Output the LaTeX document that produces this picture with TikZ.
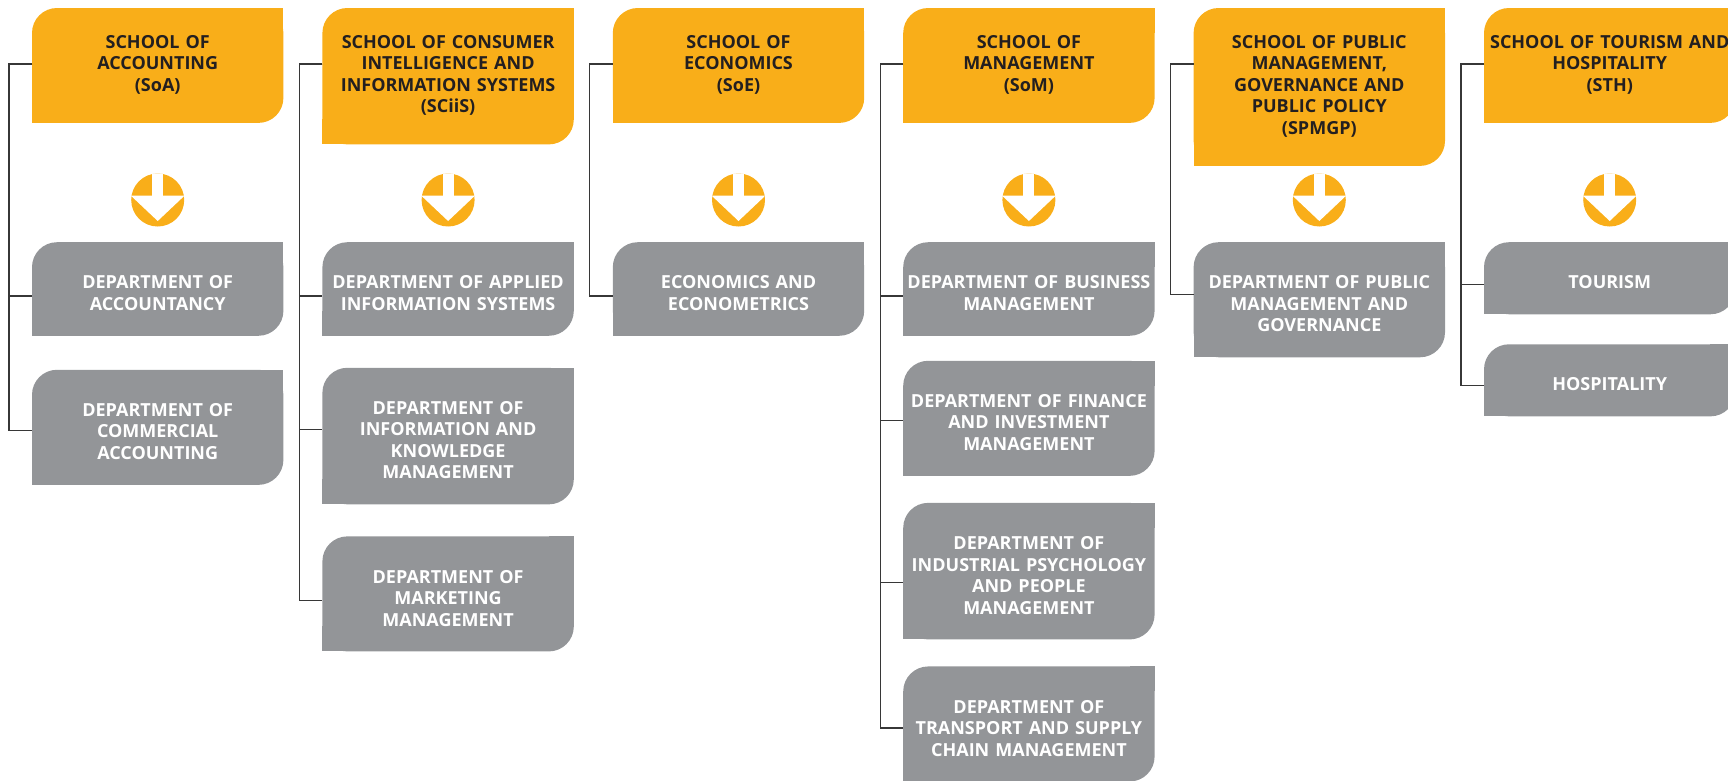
\documentclass[tikz,border=0pt]{standalone}
\usepackage{fontspec}
\setmainfont{Open Sans}
\usetikzlibrary{positioning,backgrounds,calc}

\definecolor{schoolorange}{RGB}{249,174,25}
\definecolor{deptgray}{RGB}{147,149,152}
\definecolor{schooltext}{RGB}{35,31,32}
\definecolor{spinegray}{RGB}{55,55,55}

\begin{document}
\begin{tikzpicture}
[x=1pt, y=-1pt,
    box/.style={font=\bfseries\fontsize{18}{21.5}\selectfont,
    align=center, text width=247pt, inner xsep=2pt, inner ysep=25pt},
    school/.style={box, text=schooltext,
    execute at begin node=\strut, execute at end node=\strut},
    dept/.style={box, text=white, execute at begin node={\rule{0pt}{21.5pt}}},
    downarrow/.style={circle, fill=schoolorange, minimum size=53pt, inner sep=0pt,
    path picture={
        \fill[white] ([shift={(-5.5pt,4pt)}]path picture bounding box.center)
            rectangle ([shift={(5.5pt,30pt)}]path picture bounding box.center);
        \fill[white] ([shift={(-27pt,4.5pt)}]path picture bounding box.center)
            -- ([shift={(27pt,4.5pt)}]path picture bounding box.center)
            -- ([shift={(0pt,-21pt)}]path picture bounding box.center) -- cycle;
    }},
    spine/.style={draw=spinegray, line width=1.1pt},
    node distance=30pt,
    ]

    \useasboundingbox (0,0) rectangle (1728,780);
    \clip (0,0) rectangle (1728,780);

    % schools
    \node (soa) [school, anchor=north west] at (32,8) {SCHOOL OF\\ACCOUNTING\\(SoA)};
    \node (sciis) [school, right=39pt of soa.north east, anchor=north west] {SCHOOL OF CONSUMER\\INTELLIGENCE AND\\INFORMATION SYSTEMS\\(SCiiS)};
    \node (soe) [school, right=39pt of sciis.north east, anchor=north west] {SCHOOL OF\\ECONOMICS\\(SoE)};
    \node (som) [school, right=39pt of soe.north east, anchor=north west] {SCHOOL OF\\MANAGEMENT\\(SoM)};
    \node (spmgp) [school, right=39pt of som.north east, anchor=north west] {SCHOOL OF PUBLIC\\MANAGEMENT,\\GOVERNANCE AND\\PUBLIC POLICY\\(SPMGP)};
    \node (sth) [school, right=39pt of spmgp.north east, anchor=north west] {SCHOOL OF TOURISM AND\\HOSPITALITY\\(STH)};

    % arrows
    \foreach \s in {soa,sciis,soe,som,spmgp,sth}
        \node (\s-arrow) [downarrow] at (\s.north |- 0,200) {};

    % departments
    \node (dacc) [dept, below=15.5pt of soa-arrow] {DEPARTMENT OF\\ACCOUNTANCY};
    \node (dcom) [dept, below=34pt of dacc] {DEPARTMENT OF\\COMMERCIAL\\ACCOUNTING};

    \node (dais) [dept, below=15.5pt of sciis-arrow] {DEPARTMENT OF APPLIED\\INFORMATION SYSTEMS};
    \node (dikm) [dept, below=32pt of dais] {DEPARTMENT OF\\INFORMATION AND\\KNOWLEDGE\\MANAGEMENT};
    \node (dmkt) [dept, below=32pt of dikm] {DEPARTMENT OF\\MARKETING\\MANAGEMENT};

    \node (deco) [dept, below=15.5pt of soe-arrow] {ECONOMICS AND\\ECONOMETRICS};

    \node (dbus) [dept, below=15.5pt of som-arrow] {DEPARTMENT OF BUSINESS\\MANAGEMENT};
    \node (dfin) [dept, below=25pt of dbus] {DEPARTMENT OF FINANCE\\AND INVESTMENT\\MANAGEMENT};
    \node (dipp) [dept, below=27pt of dfin] {DEPARTMENT OF\\INDUSTRIAL PSYCHOLOGY\\AND PEOPLE\\MANAGEMENT};
    \node (dtsc) [dept, below=27pt of dipp] {DEPARTMENT OF\\TRANSPORT AND SUPPLY\\CHAIN MANAGEMENT};

    \node (dpmg) [dept, below=15.5pt of spmgp-arrow] {DEPARTMENT OF PUBLIC\\MANAGEMENT AND\\GOVERNANCE};

    \node (dtour) [dept, below=15.5pt of sth-arrow] {TOURISM};
    \node (dhosp) [dept, below=30pt of dtour] {HOSPITALITY};

    % box fills: top left and bottom right rounded
    \begin{scope}[on background layer]
    \foreach \n/\c in {soa/schoolorange,sciis/schoolorange,soe/schoolorange,
        som/schoolorange,spmgp/schoolorange,sth/schoolorange,
        dacc/deptgray,dcom/deptgray,dais/deptgray,dikm/deptgray,dmkt/deptgray,
        deco/deptgray,dbus/deptgray,dfin/deptgray,dipp/deptgray,dtsc/deptgray,
        dpmg/deptgray,dtour/deptgray,dhosp/deptgray} {
        \fill[\c, rounded corners=25pt] (\n.north west) rectangle (\n.south east);
        \fill[\c] (\n.north east) rectangle ++(-25pt,-25pt);
        \fill[\c] (\n.south west) rectangle ++(25pt,25pt);
    }
    \end{scope}

    % spines
    \foreach \s/\d/\o in {soa/dacc/-7,soa/dcom/-3,sciis/dais/-7,sciis/dikm/7,sciis/dmkt/-7,
        soe/deco/-7,som/dbus/-7,som/dfin/-2,som/dipp/-11,som/dtsc/-4,spmgp/dpmg/5,
        sth/dtour/-6,sth/dhosp/-5}
        \draw[spine] ([yshift=-56pt]\s.north west) -- ++(-23pt,0pt) |- ([yshift=\o pt]\d.west);

\end{tikzpicture}
\end{document}
